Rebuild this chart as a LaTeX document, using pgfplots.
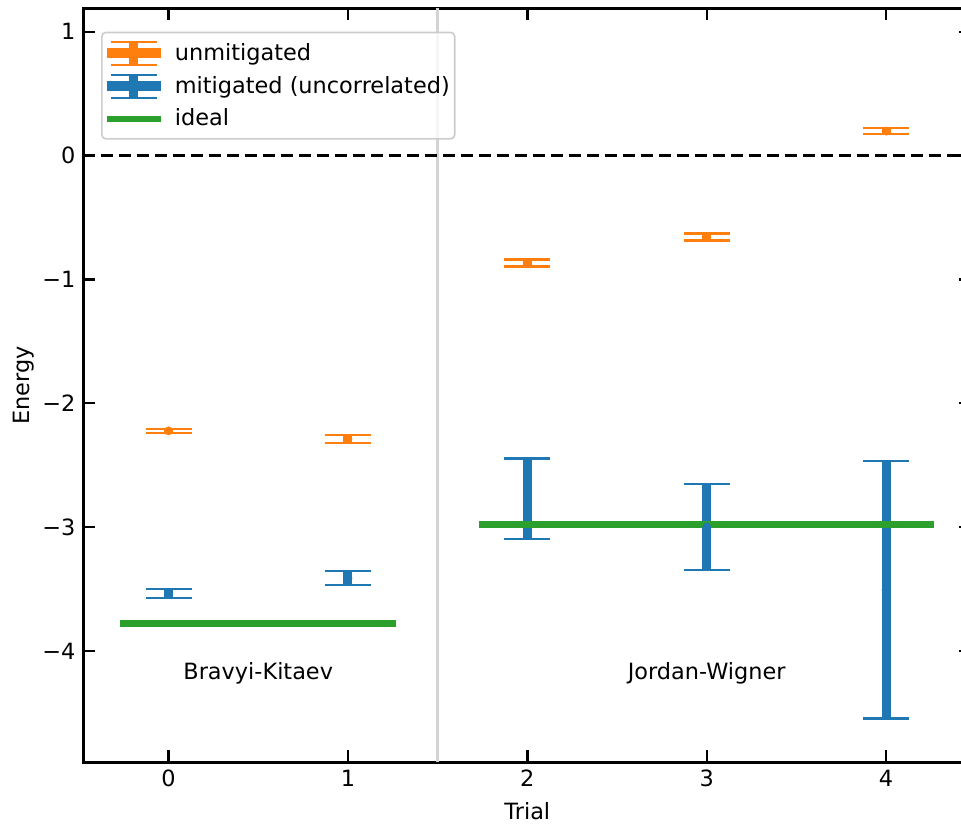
\documentclass[border=0pt]{standalone}
\usepackage{fontspec}
\setmainfont{DejaVu Sans}
\usepackage{pgfplots}
\pgfplotsset{compat=1.18}
\usetikzlibrary{calc}

\definecolor{cOrange}{HTML}{FF7F0E}
\definecolor{cBlue}{HTML}{1F77B4}
\definecolor{cGreen}{HTML}{2CA02C}
\definecolor{cSep}{HTML}{D3D3D3}

\pgfplotsset{
  errleg/.style={legend image code/.code={
    \draw[#1, line width=5pt] (0pt,0pt) -- (27pt,0pt);
    \draw[#1, line width=4.5pt] (13.5pt,-5.75pt) -- (13.5pt,5.75pt);
    \draw[#1, line width=1.2pt] (2pt,5.75pt) -- (25pt,5.75pt);
    \draw[#1, line width=1.2pt] (2pt,-5.75pt) -- (25pt,-5.75pt);
    \path[draw=none, fill=none] (0pt,0pt) -- (31.5pt,0pt);
  }},
  lineleg/.style={legend image code/.code={
    \draw[#1, line width=3pt] (0pt,0pt) -- (27pt,0pt);
    \path[draw=none, fill=none] (0pt,0pt) -- (31.5pt,0pt);
  }},
  ebar/.style={only marks, mark=none, forget plot,
    error bars/.cd, y dir=both, y explicit,
    error bar style={line width=4.5pt},
    error mark options={rotate=90, line width=1.2pt, mark size=11.5pt}},
}

\begin{document}
\fontsize{11.2}{13.4}\selectfont
\begin{tikzpicture}
\begin{axis}[
  scale only axis,
  width=444pt, height=377pt,
  xmin=-0.475, xmax=4.475,
  ymin=-4.9, ymax=1.19,
  xtick={0,1,2,3,4},
  ytick={-4,-3,-2,-1,0,1},
  yticklabels={−4,−3,−2,−1,0,1},
  /pgf/number format/assume math mode=true,
  tick align=inside,
  major tick length=6pt,
  every tick/.style={black, line width=1.2pt},
  axis line style={line width=1.6pt},
  xlabel={Trial}, ylabel={Energy},
  ylabel shift=-3.5pt,
  legend style={at={(0.02,0.969)}, anchor=north west,
    draw=black!20, line width=0.8pt, rounded corners=2pt,
    fill=white, fill opacity=0.8, text opacity=1,
    row sep=0.5pt, inner xsep=0pt, inner ysep=2.5pt,
    nodes={inner sep=2.5pt}},
  legend cell align=left,
]
% separator and reference line
\addplot[cSep, line width=1.5pt, forget plot] coordinates {(1.5,-4.9) (1.5,1.19)};
\addplot[black, line width=1.5pt, dash pattern=on 6pt off 3pt, forget plot]
  coordinates {(-0.475,0) (4.475,0)};

% unmitigated
\addplot[cOrange, ebar] coordinates {
  (0,-2.223) +- (0,0.017)
  (1,-2.289) +- (0,0.031)
  (2,-0.868) +- (0,0.029)
  (3,-0.657) +- (0,0.028)
  (4,0.198) +- (0,0.025)
};
% mitigated (uncorrelated)
\addplot[cBlue, ebar] coordinates {
  (0,-3.536) +- (0,0.036)
  (1,-3.412) +- (0,0.055)
  (2,-2.770) +- (0,0.325)
  (3,-3.000) +- (0,0.347)
  (4,-3.507) +- (0,1.039)
};
% ideal
\addplot[cGreen, line width=3.5pt, line cap=rect, forget plot]
  coordinates {(-0.25,-3.782) (1.25,-3.782)};
\addplot[cGreen, line width=3.5pt, line cap=rect, forget plot]
  coordinates {(1.75,-2.976) (4.25,-2.976)};

\addlegendimage{errleg=cOrange}
\addlegendentry{unmitigated}
\addlegendimage{errleg=cBlue}
\addlegendentry{mitigated (uncorrelated)}
\addlegendimage{lineleg=cGreen}
\addlegendentry{ideal}

\node at (axis cs:0.5,-4.18) {Bravyi-Kitaev};
\node at (axis cs:3,-4.18) {Jordan-Wigner};
\end{axis}
\pgfresetboundingbox
\path[use as bounding box] ($(current axis.south west)+(-41.65pt,-31.65pt)$)
  rectangle ($(current axis.south west)+(438.85pt,381.15pt)$);
\end{tikzpicture}
\end{document}
